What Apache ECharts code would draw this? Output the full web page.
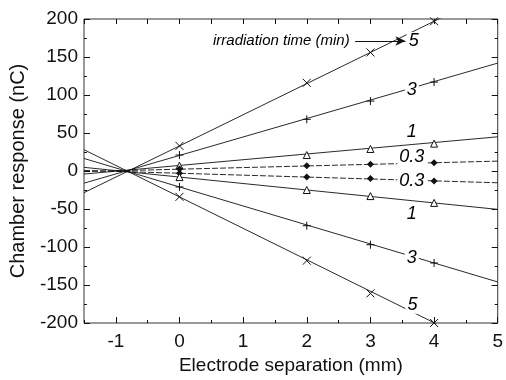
<!DOCTYPE html>
<html>
<head>
<meta charset="utf-8">
<script src="https://cdn.jsdelivr.net/npm/echarts@6/dist/echarts.min.js"></script>
<style>
  html, body { margin: 0; padding: 0; background: #fff; }
  #chart { width: 506px; height: 380px; }
</style>
</head>
<body>
<div id="chart"></div>
<script>
// electrode separation of the measured points (mm)
const sepValues = [0, 2, 3, 4];

// chamber response (nC) per irradiation time, positive and negative polarity
const pos5 = [33, 116, 156, 197];
const pos3 = [21, 68, 92, 117];
const pos1 = [7, 21, 29, 36];
const pos03 = [2.5, 7, 9, 11];
const neg03 = [-3, -8, -10, -13];
const neg1 = [-8, -25, -33, -42];
const neg3 = [-21, -72, -97, -121];
const neg5 = [-34, -118, -161, -200];

// fitted straight lines, value at x = -1.5 and x = 5
const fitX = [-1.5, 5];
const fitPos5 = [-28.5, 238];
const fitPos3 = [-16, 142];
const fitPos1 = [-4, 45];
const fitPos03 = [-0.8, 13];
const fitNeg03 = [0.8, -15.5];
const fitNeg1 = [4.8, -50.5];
const fitNeg3 = [16.5, -146];
const fitNeg5 = [28, -241];

// curve labels
const labelText = ["5", "3", "1", "0.3", "0.3", "1", "3", "5"];
const labelX = [3.68, 3.65, 3.65, 3.65, 3.65, 3.65, 3.65, 3.66];
const labelY = [171, 106, 51, 18, -13, -56, -114, -176];

// axis ticks
const xMajor = [-1, 0, 1, 2, 3, 4, 5];
const xMinor = [-1.5, -0.5, 0.5, 1.5, 2.5, 3.5, 4.5];

const font = "'Liberation Sans', Arial, sans-serif";
const black = "#111";

const myChart = echarts.init(document.getElementById("chart"));

function zip(xs, ys) {
  return xs.map(function (x, i) { return [x, ys[i]]; });
}

const groups = [
  { fit: fitPos5, pts: pos5, symbol: "x" },
  { fit: fitPos3, pts: pos3, symbol: "plus" },
  { fit: fitPos1, pts: pos1, symbol: "tri" },
  { fit: fitPos03, pts: pos03, symbol: "dia", dashed: true },
  { fit: fitNeg03, pts: neg03, symbol: "dia", dashed: true },
  { fit: fitNeg1, pts: neg1, symbol: "tri" },
  { fit: fitNeg3, pts: neg3, symbol: "plus" },
  { fit: fitNeg5, pts: neg5, symbol: "x" },
];

const symbolPaths = {
  x: "path://M0,0L10,10M10,0L0,10",
  plus: "path://M5,0L5,10M0,5L10,5",
};

const series = [];
groups.forEach(function (g) {
  series.push({
    type: "line",
    data: zip(fitX, g.fit),
    showSymbol: false,
    silent: true,
    lineStyle: { color: black, width: 0.9, type: g.dashed ? [6, 2] : "solid" },
    z: 2,
  });
  let sym = { symbol: "triangle", symbolSize: 7, itemStyle: { color: "#fff", borderColor: black, borderWidth: 1, opacity: 1 } };
  if (g.symbol === "dia") {
    sym = { symbol: "diamond", symbolSize: 7, itemStyle: { color: black, opacity: 1 } };
  } else if (g.symbol === "x" || g.symbol === "plus") {
    sym = {
      symbol: symbolPaths[g.symbol],
      symbolSize: 8,
      itemStyle: { color: "none", borderColor: black, borderWidth: 1, opacity: 1 },
    };
  }
  series.push(Object.assign({
    type: "scatter",
    data: zip(sepValues, g.pts),
    z: 3,
  }, sym));
});

// curve labels, white box cuts the line behind them
series.push({
  type: "scatter",
  symbolSize: 0,
  silent: true,
  z: 4,
  itemStyle: { opacity: 1 },
  data: labelX.map(function (x, i) {
    return { value: [x, labelY[i]], name: labelText[i] };
  }),
  label: {
    show: true,
    position: "inside",
    formatter: "{b}",
    fontFamily: font,
    fontStyle: "italic",
    fontSize: 18,
    color: "#000",
    backgroundColor: "#fff",
    padding: [0, 2],
  },
});

// "irradiation time (min)" note with arrow
series.push({
  type: "line",
  data: [],
  silent: true,
  markLine: {
    silent: true,
    symbol: ["none", "arrow"],
    symbolSize: [7, 10],
    label: { show: false },
    lineStyle: { color: black, width: 1, type: "solid" },
    data: [[{ coord: [2.76, 171] }, { coord: [3.55, 171] }]],
  },
  markPoint: {
    symbolSize: 0,
    data: [{ coord: [1.6, 171], value: "irradiation time (min)" }],
    label: {
      show: true,
      position: "inside",
      formatter: "irradiation time (min)",
      fontFamily: font,
      fontStyle: "italic",
      fontSize: 15,
      color: "#000",
    },
  },
});

const noLine = { show: false, onZero: false };

const option = {
  animation: false,
  backgroundColor: "#fff",
  grid: {
    left: 78, right: 3, top: 19, bottom: 55,
    show: true, borderColor: "#333", borderWidth: 1,
  },
  xAxis: [
    {
      type: "value", min: -1.5, max: 5, position: "bottom",
      name: "Electrode separation (mm)",
      nameLocation: "middle", nameGap: 33,
      nameTextStyle: { fontFamily: font, fontSize: 19, color: black },
      axisLine: noLine,
      axisTick: { inside: true, length: 6, customValues: xMajor, lineStyle: { color: black } },
      axisLabel: { customValues: xMajor, fontFamily: font, fontSize: 19, color: black, margin: 9 },
      splitLine: { show: false },
    },
    {
      type: "value", min: -1.5, max: 5, position: "bottom",
      axisLine: noLine,
      axisTick: { inside: true, length: 3, customValues: xMinor, lineStyle: { color: black } },
      axisLabel: { show: false },
      splitLine: { show: false },
    },
    {
      type: "value", min: -1.5, max: 5, position: "top",
      axisLine: noLine,
      axisTick: { inside: true, length: 5, customValues: xMajor.concat(xMinor), lineStyle: { color: black } },
      axisLabel: { show: false },
      splitLine: { show: false },
    },
  ],
  yAxis: [
    {
      type: "value", min: -200, max: 200, interval: 50, position: "left",
      name: "Chamber response (nC)",
      nameLocation: "middle", nameGap: 56,
      nameTextStyle: { fontFamily: font, fontSize: 20, color: black },
      axisLine: noLine,
      axisTick: { inside: true, length: 6, lineStyle: { color: black } },
      minorTick: { show: true, splitNumber: 2, length: 3, lineStyle: { color: black } },
      axisLabel: { fontFamily: font, fontSize: 19, color: black, margin: 6 },
      splitLine: { show: false },
    },
    {
      type: "value", min: -200, max: 200, interval: 50, position: "right",
      axisLine: noLine,
      axisTick: { inside: true, length: 6, lineStyle: { color: black } },
      minorTick: { show: true, splitNumber: 2, length: 3, lineStyle: { color: black } },
      axisLabel: { show: false },
      splitLine: { show: false },
    },
  ],
  series: series,
};

myChart.setOption(option);
window.addEventListener("resize", function () { myChart.resize(); });
</script>
</body>
</html>
